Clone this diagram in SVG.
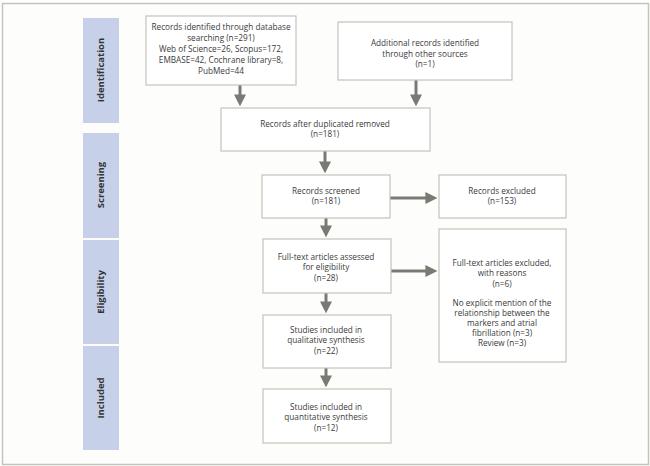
<svg xmlns="http://www.w3.org/2000/svg" width="650" height="466" viewBox="0 0 650 466">
<style>
.bg{fill:#fdfdfb;stroke:#c4c4bc;stroke-width:1.5}
.box{fill:#ffffff;stroke:#c4c4bc;stroke-width:1.2}
.side{fill:#c6d0e8}
.t{font-family:"Open Sans","Noto Sans",sans-serif;font-size:8.2px;fill:#3a3a3a;text-anchor:middle}
.s{font-family:"Open Sans","Noto Sans",sans-serif;font-size:9.5px;font-weight:bold;fill:#333;text-anchor:middle}
.c{stroke:#7a7a74;stroke-width:3;fill:none}
</style>
<defs>
<marker id="ah" markerWidth="4" markerHeight="4" refX="2.2" refY="2" orient="auto" markerUnits="strokeWidth">
<path d="M0,0 L4,2 L0,4 Z" fill="#7a7a74"/>
</marker>
</defs>
<rect class="bg" x="2.5" y="3.5" width="646" height="461"/>
<g id="stages">
<rect class="side" x="83" y="18" width="36" height="105"/>
<rect class="side" x="83" y="133" width="36" height="105"/>
<rect class="side" x="83" y="240" width="36" height="104"/>
<rect class="side" x="83" y="346" width="36" height="104"/>
<text class="s" transform="translate(104,70) rotate(-90)">Identification</text>
<text class="s" transform="translate(104,185) rotate(-90)">Screening</text>
<text class="s" transform="translate(104,292) rotate(-90)">Eligibility</text>
<text class="s" transform="translate(104,398) rotate(-90)">Included</text>
</g>
<g id="connectors">
<line class="c" x1="240" y1="85" x2="240" y2="101" marker-end="url(#ah)"/>
<line class="c" x1="416" y1="80" x2="416" y2="101" marker-end="url(#ah)"/>
<line class="c" x1="325" y1="151" x2="325" y2="168" marker-end="url(#ah)"/>
<line class="c" x1="390" y1="198" x2="432" y2="198" marker-end="url(#ah)"/>
<line class="c" x1="326" y1="218" x2="326" y2="232" marker-end="url(#ah)"/>
<line class="c" x1="391" y1="271" x2="432" y2="271" marker-end="url(#ah)"/>
<line class="c" x1="326" y1="293" x2="326" y2="308" marker-end="url(#ah)"/>
<line class="c" x1="326" y1="368" x2="326" y2="382" marker-end="url(#ah)"/>
</g>
<g id="n1">
<rect class="box" x="146" y="16" width="150" height="69"/>
<text class="t" x="221" y="30">Records identified through database</text>
<text class="t" x="221" y="41">searching (n=291)</text>
<text class="t" x="221" y="52">Web of Science=26, Scopus=172,</text>
<text class="t" x="221" y="63">EMBASE=42, Cochrane library=8,</text>
<text class="t" x="221" y="74">PubMed=44</text>
</g>
<g id="n2">
<rect class="box" x="338" y="22" width="174" height="58"/>
<text class="t" x="425" y="46">Additional records identified</text>
<text class="t" x="425" y="56.5">through other sources</text>
<text class="t" x="425" y="67">(n=1)</text>
</g>
<g id="n3">
<rect class="box" x="221" y="108" width="209" height="43"/>
<text class="t" x="325" y="127">Records after duplicated removed</text>
<text class="t" x="325" y="137">(n=181)</text>
</g>
<g id="n4">
<rect class="box" x="262" y="175" width="128" height="43"/>
<text class="t" x="326" y="194">Records screened</text>
<text class="t" x="326" y="204">(n=181)</text>
</g>
<g id="n5">
<rect class="box" x="439" y="175" width="127" height="43"/>
<text class="t" x="502" y="194">Records excluded</text>
<text class="t" x="502" y="204">(n=153)</text>
</g>
<g id="n6">
<rect class="box" x="263" y="239" width="128" height="54"/>
<text class="t" x="326" y="260">Full-text articles assessed</text>
<text class="t" x="326" y="270">for eligibility</text>
<text class="t" x="326" y="280.5">(n=28)</text>
</g>
<g id="n7">
<rect class="box" x="439" y="229" width="127" height="133"/>
<text class="t" x="502" y="266">Full-text articles excluded,</text>
<text class="t" x="502" y="276">with reasons</text>
<text class="t" x="502" y="286.5">(n=6)</text>
<text class="t" x="502" y="306">No explicit mention of the</text>
<text class="t" x="502" y="316">relationship between the</text>
<text class="t" x="502" y="326">markers and atrial</text>
<text class="t" x="502" y="336">fibrillation (n=3)</text>
<text class="t" x="502" y="346">Review (n=3)</text>
</g>
<g id="n8">
<rect class="box" x="263" y="315" width="128" height="53"/>
<text class="t" x="326" y="333">Studies included in</text>
<text class="t" x="326" y="343">qualitative synthesis</text>
<text class="t" x="326" y="353.5">(n=22)</text>
</g>
<g id="n9">
<rect class="box" x="263" y="389" width="128" height="54"/>
<text class="t" x="326" y="410">Studies included in</text>
<text class="t" x="326" y="420">quantitative synthesis</text>
<text class="t" x="326" y="431">(n=12)</text>
</g>
</svg>
